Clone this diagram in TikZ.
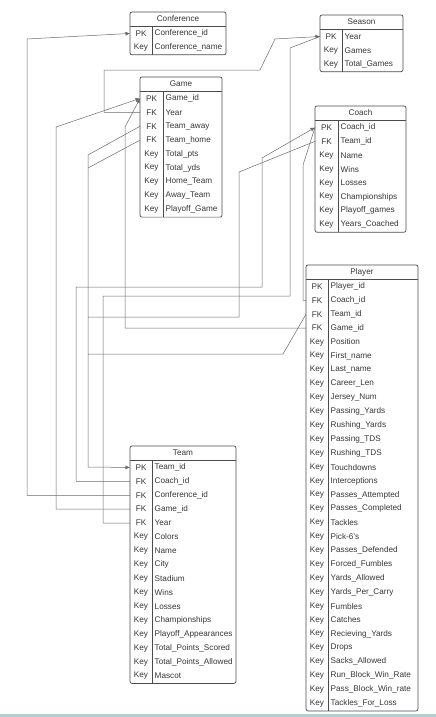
\documentclass[tikz,border=0pt]{standalone}
\usepackage{fontspec}
\setmainfont{Liberation Sans}
\usetikzlibrary{arrows.meta}
\definecolor{linec}{RGB}{105,105,105}
\definecolor{tblc}{RGB}{75,75,75}
\definecolor{txtc}{RGB}{55,55,55}
\definecolor{barc}{RGB}{180,208,212}
\tikzset{
  tbl/.style={draw=tblc, line width=0.7pt},
  ttl/.style={font=\fontsize{8.2}{9}\selectfont, text=txtc, inner sep=0pt},
  keytxt/.style={font=\fontsize{8.2}{9}\selectfont, text=txtc, inner sep=0pt},
  fldtxt/.style={font=\fontsize{8.2}{9}\selectfont, text=txtc, inner sep=0pt, anchor=west},
  conn/.style={draw=linec, line width=0.5pt},
  arr/.style={conn, -{Latex[length=4.5pt,width=4pt]}},
}
\def\rh{13.9}
% #1 name, #2 x, #3 top, #4 width, #5 key width, #6 rows, #7 title, #8 rows
\newcommand{\ertable}[8]{%
  \pgfmathsetmacro{\tblh}{15+#6*\rh}
  \draw[tbl, fill=white, rounded corners=2pt] (#2,#3) rectangle ++(#4,\tblh);
  \draw[tbl, line width=0.9pt] (#2,#3+14) -- ++(#4,0);
  \draw[tbl] (#2+#5,#3+14) -- (#2+#5,#3+\tblh);
  \node[ttl] (#1) at (#2+#4/2,#3+7) {#7};
  \foreach [count=\i] \k/\f in {#8} {
    \pgfmathsetmacro{\yc}{#3+14+(\i-0.5)*\rh+0.5}
    \coordinate (#1-\i) at (#2,\yc);
    \node[keytxt] (#1-k\i) at (#2+#5/2,\yc) {\k};
    \node[fldtxt] (#1-f\i) at (#2+#5+2.5,\yc) {\f};
  }
}
\begin{document}
\begin{tikzpicture}[x=1pt,y=-1pt]
\useasboundingbox (0,0) rectangle (436,717);
\fill[barc] (0,714) rectangle (436,717);

\ertable{conf}{130}{12}{96}{22}{2}{Conference}{PK/Conference\_id, Key/Conference\_name}
\ertable{season}{320}{15}{83}{22}{3}{Season}{PK/Year, Key/Games, Key/Total\_Games}
\ertable{game}{140}{77}{82}{23}{9}{Game}{PK/Game\_id, FK/Year, FK/Team\_away, FK/Team\_home, Key/Total\_pts, Key/Total\_yds, Key/Home\_Team, Key/Away\_Team, Key/Playoff\_Game}
\ertable{coach}{315}{106}{91}{23}{8}{Coach}{PK/Coach\_id, FK/Team\_id, Key/Name, Key/Wins, Key/Losses, Key/Championships, Key/Playoff\_games, Key/Years\_Coached}
\ertable{player}{306}{265}{112}{22}{31}{Player}{PK/Player\_id, FK/Coach\_id, FK/Team\_id, FK/Game\_id, Key/Position, Key/First\_name, Key/Last\_name, Key/Career\_Len, Key/Jersey\_Num, Key/Passing\_Yards, Key/Rushing\_Yards, Key/Passing\_TDS, Key/Rushing\_TDS, Key/Touchdowns, Key/Interceptions, Key/Passes\_Attempted, Key/Passes\_Completed, Key/Tackles, Key/Pick-6's, Key/Passes\_Defended, Key/Forced\_Fumbles, Key/Yards\_Allowed, Key/Yards\_Per\_Carry, Key/Fumbles, Key/Catches, Key/Recieving\_Yards, Key/Drops, Key/Sacks\_Allowed, Key/Run\_Block\_Win\_Rate, Key/Pass\_Block\_Win\_rate, Key/Tackles\_For\_Loss}
\ertable{team}{130}{446}{106}{22}{16}{Team}{PK/Team\_id, FK/Coach\_id, FK/Conference\_id, FK/Game\_id, FK/Year, Key/Colors, Key/Name, Key/City, Key/Stadium, Key/Wins, Key/Losses, Key/Championships, Key/Playoff\_Appearances, Key/Total\_Points\_Scored, Key/Total\_Points\_Allowed, Key/Mascot}

% Team.Conference_id -> Conference.Conference_id
\draw[arr] (team-3) -| (27,39) -- (conf-1);
% Team.Game_id -> Game.Game_id
\draw[arr] (team-4) -| (56,127) -- (game-1);
% Player.Game_id -> Game.Game_id
\draw[arr] (player-4) -| (125,127) -- (game-1);
% Game.Year -> Season.Year
\draw[arr] (game-2) -| (104,70) -- (260,70) -- (275,39) -- (season-1);
% Team.Year -> Season.Year
\draw[conn] (team-5) -| (103,296) -| (290,48) -- (season-1);
% Team.Coach_id -> Coach.Coach_id
\draw[arr] (team-2) -| (76,287) -| (262,158) -- (coach-1);
% Player.Coach_id -> Coach.Coach_id
\draw[conn] (player-2) -| (303,165) -- (coach-1);
% Coach.Team_id -> Team.Team_id
\draw[conn] (coach-2) -- (239,172) |- (88,317) -- (88,354);
% Game.Team_away -> Team.Team_id
\draw[conn] (game-3) -- (88,155) -- (88,317);
% Game.Team_home -> Team.Team_id
\draw[conn] (game-4) -- (88,168);
% Player.Team_id -> Team.Team_id
\draw[arr] (player-3) -- (283,354) -| (88,467) -- (team-1);
\end{tikzpicture}
\end{document}
